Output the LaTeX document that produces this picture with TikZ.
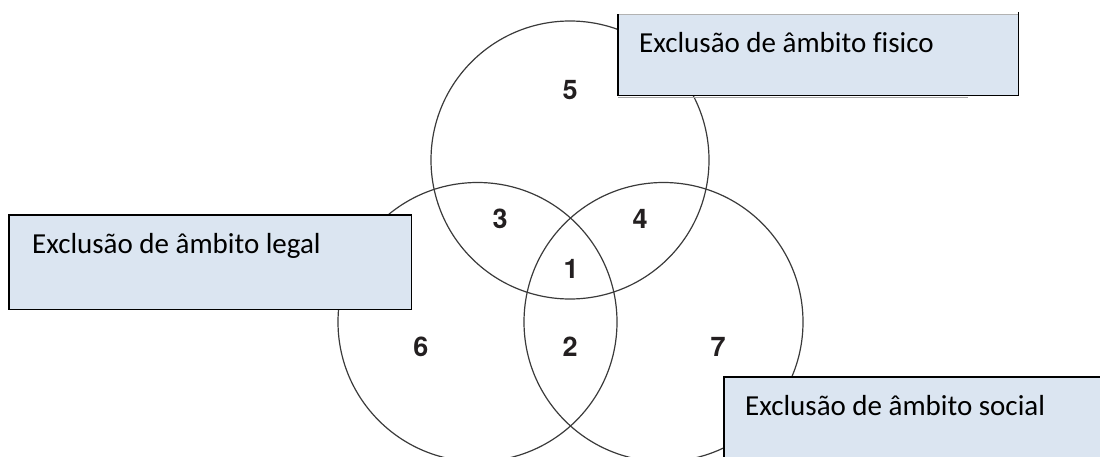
\documentclass[tikz,border=0pt]{standalone}
\usepackage{fontspec}
\setmainfont{Carlito}[Ligatures=CommonOff]
\newfontfamily\numfont{TeX Gyre Heros}
\definecolor{boxfill}{HTML}{DBE5F1}
\definecolor{ringcol}{HTML}{3A3A3A}
\definecolor{digitcol}{HTML}{231F20}
\begin{document}
\begin{tikzpicture}[x=1pt,y=-1pt,
  ring/.style={draw=ringcol, line width=1.2pt},
  labelbox/.style={fill=boxfill, inner sep=0pt, anchor=north west},
  edge/.style={draw=black, line width=1.4pt},
  boxtext/.style={font=\fontsize{29}{33}\selectfont, anchor=base west, inner sep=0pt, text=black},
  num/.style={font=\numfont\bfseries\fontsize{27}{30}\selectfont, text=digitcol, inner sep=0pt}]
\useasboundingbox (0,0) rectangle (1100,457);
\clip (0,0) rectangle (1100,457);
% circles
\draw[ring] (570,160) circle[radius=139];
\draw[ring] (477.5,322) circle[radius=139.5];
\draw[ring] (663.5,322) circle[radius=139.5];
% region numbers
\node[num] (n5) at (570,90) {5};
\node[num] (n3) at (500,219) {3};
\node[num] (n4) at (640,219) {4};
\node[num] (n1) at (571,269) {1};
\node[num] (n2) at (570,347) {2};
\node[num] (n6) at (421,347) {6};
\node[num] (n7) at (718,347) {7};
% box: fisico
\node[labelbox, minimum width=400pt, minimum height=81pt] (bf) at (618,14) {};
\draw[gray!60, line width=0.8pt] (bf.north west) -- (bf.north east);
\draw[edge] ([yshift=2pt]bf.north east) -- (bf.south east) -- (bf.south west) -- (bf.north west);
\draw[gray!70, line width=1pt] ([yshift=-2.2pt]bf.south west) -- ([xshift=-50pt,yshift=-2.2pt]bf.south east);
\node[boxtext] (tf) at (639,53) {Exclusão de âmbito fisico};
% box: legal
\node[labelbox, minimum width=402pt, minimum height=94pt] (bl) at (9,215) {};
\draw[edge] (bl.north west) rectangle (bl.south east);
\node[boxtext] (tl) at (32,253) {Exclusão de âmbito legal};
% box: social
\node[labelbox, minimum width=400pt, minimum height=100pt] (bs) at (724,377) {};
\draw[edge] (bs.south west) -- (bs.north west) -- (bs.north east);
\node[boxtext] (ts) at (745,415) {Exclusão de âmbito social};
\end{tikzpicture}
\end{document}
